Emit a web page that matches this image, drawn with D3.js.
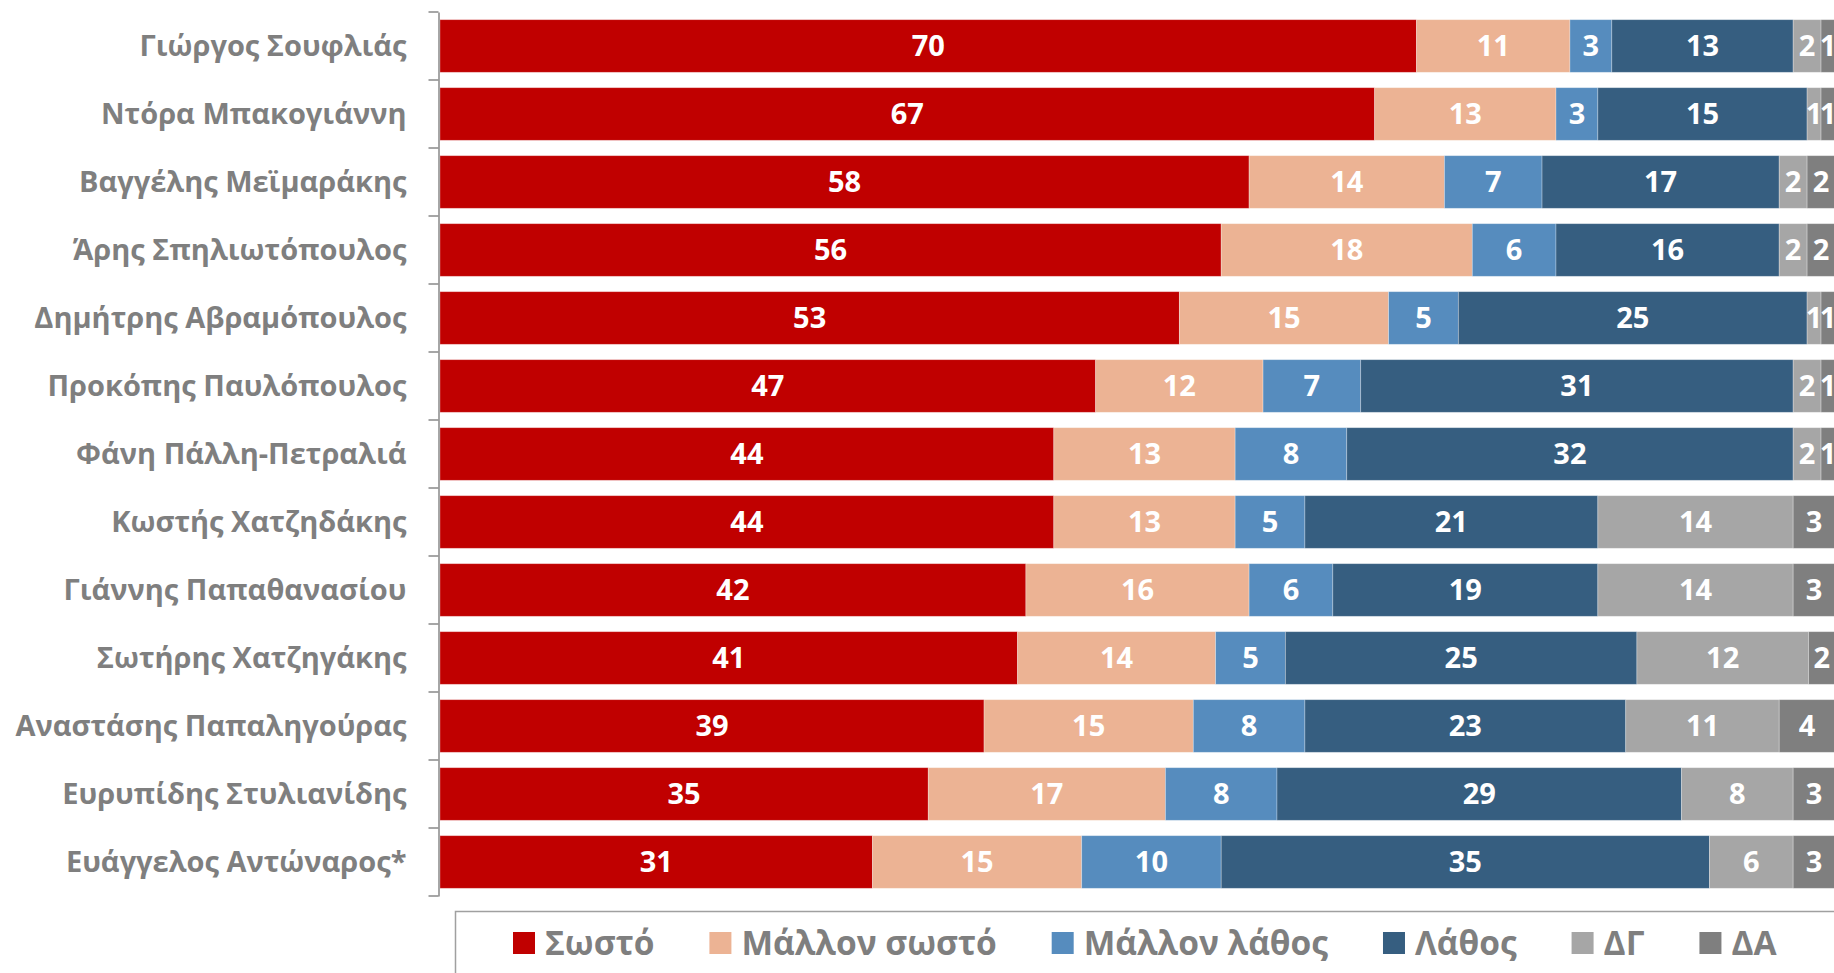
<!DOCTYPE html>
<html>
<head>
<meta charset="utf-8">
<script src="https://cdn.jsdelivr.net/npm/d3@7"></script>
<style>
  html, body { margin: 0; padding: 0; background: #fff; overflow: hidden; }
  svg { display: block; }
</style>
</head>
<body>
<svg id="chart" width="1834" height="973"></svg>
<script>
const names = [
  "Γιώργος Σουφλιάς",
  "Ντόρα Μπακογιάννη",
  "Βαγγέλης Μεϊμαράκης",
  "Άρης Σπηλιωτόπουλος",
  "Δημήτρης Αβραμόπουλος",
  "Προκόπης Παυλόπουλος",
  "Φάνη Πάλλη-Πετραλιά",
  "Κωστής Χατζηδάκης",
  "Γιάννης Παπαθανασίου",
  "Σωτήρης Χατζηγάκης",
  "Αναστάσης Παπαληγούρας",
  "Ευρυπίδης Στυλιανίδης",
  "Ευάγγελος Αντώναρος*"
];
const seriesNames = ["Σωστό", "Μάλλον σωστό", "Μάλλον λάθος", "Λάθος", "ΔΓ", "ΔΑ"];
const sosto        = [70, 67, 58, 56, 53, 47, 44, 44, 42, 41.4, 39, 35, 31];
const mallonSosto  = [11, 13, 14, 18, 15, 12, 13, 13, 16, 14.2, 15, 17, 15];
const mallonLathos = [ 3,  3,  7,  6,  5,  7,  8,  5,  6,  5.0,  8,  8, 10];
const lathos       = [13, 15, 17, 16, 25, 31, 32, 21, 19, 25.2, 23, 29, 35];
const dg           = [ 2,  1,  2,  2,  1,  2,  2, 14, 14, 12.3, 11,  8,  6];
const da           = [ 1,  1,  2,  2,  1,  1,  1,  3,  3,  1.9,  4,  3,  3];
const colors = ["#c00000", "#ecb394", "#568cbe", "#365e80", "#a6a6a6", "#7f7f7f"];

const seriesValues = [sosto, mallonSosto, mallonLathos, lathos, dg, da];
const rows = names.map((n, i) => {
  const r = { name: n };
  seriesNames.forEach((s, j) => r[s] = seriesValues[j][i]);
  return r;
});

const svg = d3.select("#chart");
const fontFam = "'Open Sans', 'Noto Sans', sans-serif";

const x = d3.scaleLinear().domain([0, 100]).range([440, 1835]);
const y = d3.scaleBand().domain(names).range([12, 896]).paddingInner(0.226).paddingOuter(0.113);

const stacked = d3.stack().keys(seriesNames)(rows);

const g = svg.append("g");
const layers = g.selectAll("g.layer").data(stacked).join("g")
  .attr("class", "layer")
  .attr("fill", (d, i) => colors[i]);

layers.selectAll("rect").data(d => d).join("rect")
  .attr("x", d => x(d[0]))
  .attr("y", d => y(d.data.name))
  .attr("width", d => x(d[1]) - x(d[0]))
  .attr("height", y.bandwidth())
  .attr("stroke", "#ffffff")
  .attr("stroke-opacity", 0.35)
  .attr("stroke-width", 0.8);

layers.selectAll("text").data(d => d).join("text")
  .attr("x", d => (x(d[0]) + x(d[1])) / 2)
  .attr("y", d => y(d.data.name) + y.bandwidth() / 2)
  .attr("dy", "0.36em")
  .attr("text-anchor", "middle")
  .attr("fill", "#ffffff")
  .attr("font-family", fontFam)
  .attr("font-weight", 700)
  .attr("font-size", 29)
  .text(d => Math.round(d[1] - d[0]));

// Category axis
const axis = d3.axisLeft(y).tickSize(0).tickPadding(32);
const ag = svg.append("g").attr("transform", `translate(${x(0) - 1.5},0)`).call(axis);
ag.select(".domain").attr("stroke", "#888888").attr("stroke-width", 1.5);
ag.selectAll(".tick text")
  .attr("fill", "#7f7f7f")
  .attr("font-family", fontFam)
  .attr("font-weight", 700)
  .attr("font-size", 29)
  .attr("dy", "0.36em");
const bounds = names.map(n => y(n) - y.step() * y.paddingInner() / 2);
bounds.push(y.range()[1]);
bounds[0] = y.range()[0];
ag.selectAll("line.bt").data(bounds).join("line")
  .attr("class", "bt")
  .attr("x1", -10).attr("x2", 0)
  .attr("y1", d => d).attr("y2", d => d)
  .attr("stroke", "#888888").attr("stroke-width", 1.5);

// Legend
const lg = svg.append("g");
lg.append("rect")
  .attr("x", 455.5).attr("y", 911.5)
  .attr("width", 1500).attr("height", 200)
  .attr("fill", "none").attr("stroke", "#a0a0a0").attr("stroke-width", 1.5);

let cx = 513;
const ly = 943;
seriesNames.forEach((s, i) => {
  lg.append("rect")
    .attr("x", cx).attr("y", ly - 11)
    .attr("width", 22).attr("height", 22)
    .attr("fill", colors[i]);
  const t = lg.append("text")
    .attr("x", cx + 32).attr("y", ly)
    .attr("dy", "0.36em")
    .attr("fill", "#7f7f7f")
    .attr("font-family", fontFam)
    .attr("font-weight", 700)
    .attr("font-size", 33.5)
    .text(s);
  const w = t.node().getComputedTextLength();
  cx = cx + 32 + w + 55;
});
</script>
</body>
</html>
